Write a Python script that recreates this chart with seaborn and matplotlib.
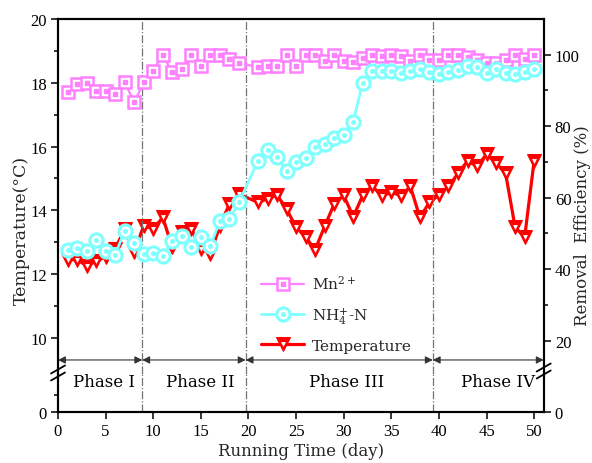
import matplotlib
matplotlib.use("Agg")
import matplotlib.pyplot as plt
from matplotlib.lines import Line2D
from matplotlib.ticker import FixedLocator
import seaborn as sns

sns.set_style("ticks")
plt.rcParams["font.family"] = ["Liberation Serif", "DejaVu Serif"]
plt.rcParams["mathtext.fontset"] = "dejavuserif"

# ---------------- data ----------------
days = list(range(1, 20)) + list(range(21, 51))

mn_removal = [89.5, 91.8, 92.1, 89.8, 89.9, 89.0, 92.3, 86.7, 92.3, 95.5,
              100.0, 95.1, 96.0, 100.0, 96.9, 100.0, 100.0, 98.8, 97.7,
              96.5, 96.8, 96.8, 100.0, 96.8, 100.0, 100.0, 98.3, 100.0, 98.3,
              98.0, 99.0, 100.0, 99.7, 100.0, 99.7, 98.3, 100.0, 98.6, 98.6,
              100.0, 100.0, 99.3, 98.6, 97.7, 97.7, 98.6, 100.0, 98.9, 100.0]

nh4_removal = [45.4, 45.9, 45.0, 48.3, 45.2, 44.0, 50.8, 47.2, 44.3, 44.5,
               43.6, 48.0, 49.4, 46.1, 48.9, 46.4, 53.6, 54.0, 58.7,
               70.3, 73.4, 71.3, 67.6, 69.9, 71.0, 74.3, 75.0, 76.6, 77.5,
               81.3, 92.2, 95.5, 95.5, 95.5, 95.0, 95.5, 96.0, 95.2, 94.6,
               95.2, 95.8, 96.9, 96.5, 94.9, 96.0, 94.9, 94.6, 95.2, 96.0]

temperature = [12.45, 12.45, 12.27, 12.40, 12.55, 12.79, 13.42, 12.69, 13.52, 13.42,
               13.78, 12.84, 13.31, 13.42, 12.79, 12.63, 13.52, 14.20, 14.51,
               14.25, 14.36, 14.48, 14.04, 13.47, 13.16, 12.77, 13.50, 14.20, 14.47,
               13.80, 14.47, 14.77, 14.44, 14.57, 14.46, 14.75, 13.78, 14.25, 14.48,
               14.75, 15.16, 15.55, 15.38, 15.76, 15.48, 15.16, 13.47, 13.16, 15.56]

phase_bounds = [8.85, 19.7, 39.35]
phase_names = ["Phase I", "Phase II", "Phase III", "Phase IV"]
phase_text_x = [4.8, 14.9, 30.3, 46.2]

x_ticks = list(range(0, 51, 5))
temp_ticks = [10, 12, 14, 16, 18, 20]
temp_minor = [11, 13, 15, 17, 19]
eff_ticks = [20, 40, 60, 80, 100]
eff_minor = [30, 50, 70, 90]

# ---------------- style ----------------
PINK = "#FF80FF"
CYAN = "#80FFFF"
RED = "#FF0000"
LABEL_FONT = "DejaVu Serif"

W, H = 592, 464
L, R = 58, 543.7
T, BRK, B = 20, 375, 413.3

fig = plt.figure(figsize=(W / 100, H / 100), dpi=100)
ax = fig.add_axes([L / W, 1 - BRK / H, (R - L) / W, (BRK - T) / H])
axb = fig.add_axes([L / W, 1 - B / H, (R - L) / W, (B - BRK) / H])
ax2 = ax.twinx()
axb2 = axb.twinx()

# temperature (left axis)
sns.lineplot(x=days, y=temperature, ax=ax, color=RED, lw=2.3, marker="v",
             markersize=10.5, markeredgecolor=RED, markerfacecolor=RED,
             legend=False, sort=False)
t_line = ax.lines[-1]
t_dot, = ax.plot(days, temperature, ls="none", marker="v", ms=3.5,
                 color="white", mew=0)

# removal efficiencies (right axis)
sns.lineplot(x=days, y=mn_removal, ax=ax2, color=PINK, lw=1.6, marker="s",
             markersize=8.8, markerfacecolor="white", markeredgecolor=PINK,
             markeredgewidth=1.8, legend=False, sort=False)
mn_line = ax2.lines[-1]
mn_dot, = ax2.plot(days, mn_removal, ls="none", marker="s", ms=2.3, color=PINK)

sns.lineplot(x=days, y=nh4_removal, ax=ax2, color=CYAN, lw=2.0, marker="o",
             markersize=9.5, markerfacecolor="white", markeredgecolor=CYAN,
             markeredgewidth=2.2, legend=False, sort=False)
nh_line = ax2.lines[-1]
nh_dot, = ax2.plot(days, nh4_removal, ls="none", marker="o", ms=2.6, color=CYAN)

# limits
for a in (ax, ax2, axb, axb2):
    a.set_xlim(0, 51)
ax.set_ylim(8.87, 20)
ax2.set_ylim(10.68, 110.0)
axb.set_ylim(0, 1.2)
axb2.set_ylim(0, 1.2)

# ticks
ax.yaxis.set_major_locator(FixedLocator(temp_ticks))
ax.yaxis.set_minor_locator(FixedLocator(temp_minor))
ax2.yaxis.set_major_locator(FixedLocator(eff_ticks))
ax2.yaxis.set_minor_locator(FixedLocator(eff_minor))
axb.yaxis.set_major_locator(FixedLocator([0]))
axb.yaxis.set_minor_locator(FixedLocator([0.55]))
axb2.yaxis.set_major_locator(FixedLocator([0]))
axb.xaxis.set_major_locator(FixedLocator(x_ticks))

for a in (ax, ax2, axb, axb2):
    a.tick_params(which="major", direction="out", length=5, width=1.1,
                  labelsize=12, pad=3, color="black", labelcolor="black")
    a.tick_params(which="minor", direction="out", length=3, width=1.1,
                  color="black")
    for s in a.spines.values():
        s.set_linewidth(1.5)
        s.set_color("black")
        s.set_visible(True)
ax.tick_params(axis="x", bottom=False, labelbottom=False, top=False)
ax2.tick_params(axis="x", bottom=False, labelbottom=False, top=False)
axb2.tick_params(axis="x", bottom=False, labelbottom=False, top=False)
axb.tick_params(axis="x", top=False)
for a in (ax, ax2):
    a.spines["bottom"].set_visible(False)
for a in (axb, axb2):
    a.spines["top"].set_visible(False)
for a in (ax, ax2, axb, axb2):
    a.set_xlabel("")
    a.set_ylabel("")

# phase separators
for b in phase_bounds:
    ax.axvline(b, color="0.45", lw=0.9, ls="-.")
    axb.axvline(b, color="0.45", lw=0.9, ls="-.")

# phase arrows
edges = [0] + phase_bounds + [51]
y_arrow = 9.31
for x0, x1 in zip(edges[:-1], edges[1:]):
    ax.annotate("", xy=(x1, y_arrow), xytext=(x0, y_arrow),
                arrowprops=dict(arrowstyle="<|-|>", color="#333333", lw=0.8,
                                shrinkA=0, shrinkB=0, mutation_scale=11))
for name, xc in zip(phase_names, phase_text_x):
    axb.text(xc, 0.95, name, ha="center", va="center", fontsize=12,
             family=LABEL_FONT, color="black")

# axis labels
ax.set_ylabel("Temperature(°C)", fontsize=12.5, family=LABEL_FONT)
ax.yaxis.set_label_coords(-0.058, 0.408)
ax2.set_ylabel("Removal  Efficiency (%)", fontsize=12, family=LABEL_FONT)
ax2.yaxis.set_label_coords(1.062, 0.42)
axb.set_xlabel("Running Time (day)", fontsize=12, family=LABEL_FONT)
axb.xaxis.set_label_coords(0.5, -0.775)

# break marks
for (xc, yc) in [(L, 370.5), (L, 377.5), (R, 368.5), (R, 375.5)]:
    fig.add_artist(Line2D([(xc - 7) / W, (xc + 7) / W],
                          [1 - (yc + 4) / H, 1 - (yc - 4) / H],
                          color="black", lw=1.3))

# legend
ax2.legend([(mn_line, mn_dot), (nh_line, nh_dot), (t_line, t_dot)],
           ["Mn$^{2+}$", "NH$_4^{+}$-N", "Temperature"],
           loc="upper left", bbox_to_anchor=(0.39, 0.32), frameon=False,
           prop={"family": LABEL_FONT, "size": 11}, handlelength=2.8,
           handletextpad=0.5, labelspacing=0.85, numpoints=1)

fig.savefig("out.png", dpi=100)
